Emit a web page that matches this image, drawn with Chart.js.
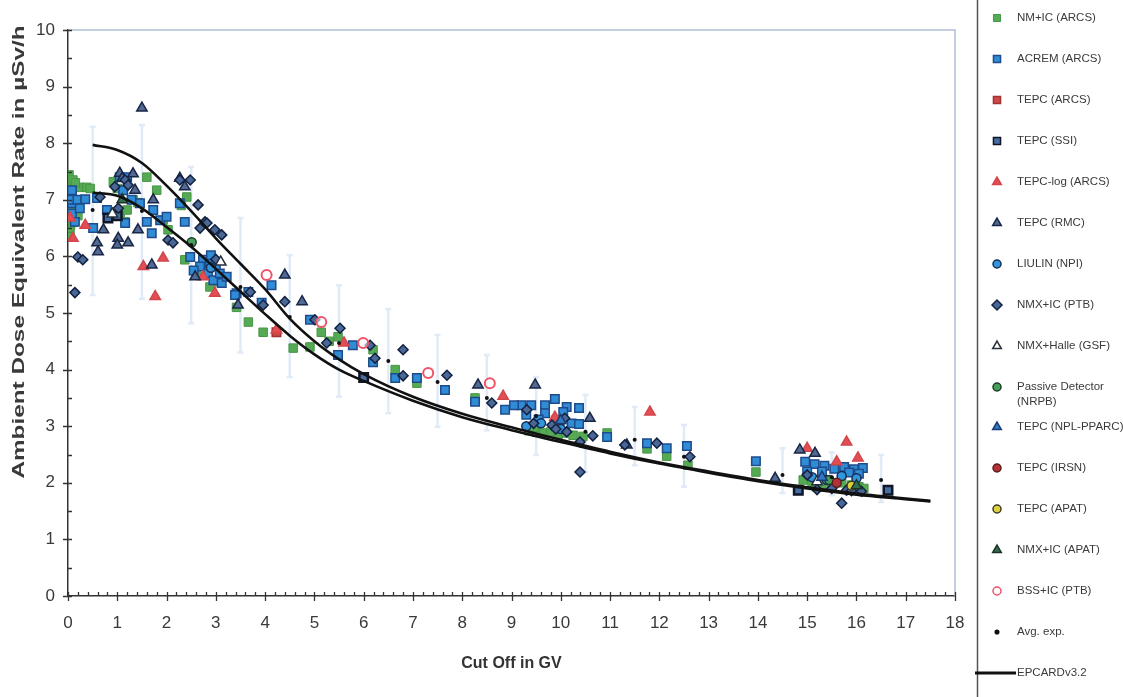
<!DOCTYPE html>
<html>
<head>
<meta charset="utf-8">
<script src="https://cdn.jsdelivr.net/npm/chart.js@4.4.1/dist/chart.umd.min.js"></script>
<style>
  html, body { margin: 0; background: #fff; }
  canvas { display: block; }
</style>
</head>
<body>
<canvas id="doseChart" width="1123" height="697"></canvas>
<script>
// measured dose rates, [cut off GV, µSv/h]
const nmIcArcs = [
  [0.02, 7.44], [0.1, 7.35], [0.0, 7.2], [0.08, 7.05], [0.04, 6.9], [0.0, 6.7], [0.05, 6.55], [0.04, 6.47], [0.0, 6.35],
  [0.24, 7.22], [0.38, 7.22], [0.45, 7.2], [0.15, 7.3], [0.2, 6.72], [0.1, 6.6],
  [0.92, 7.32], [1.06, 6.76], [1.2, 6.82], [1.16, 6.61], [1.32, 7.0], [1.6, 7.4], [1.8, 7.17], [1.93, 6.64], [2.03, 6.47], [1.0, 7.2], [1.42, 6.95],
  [2.37, 5.94], [2.41, 7.05], [2.3, 6.9], [2.88, 5.46], [3.42, 5.1], [3.66, 4.84], [3.96, 4.66], [4.57, 4.38], [2.6, 5.7], [3.05, 5.55],
  [4.91, 4.4], [5.14, 4.66], [5.48, 4.58], [6.19, 4.35], [6.64, 4.0], [7.08, 3.76], [5.3, 4.5],
  [8.26, 3.5], [9.35, 2.92], [9.5, 2.9], [9.65, 2.88], [9.8, 2.9], [9.95, 2.86], [10.1, 2.88], [10.25, 2.84], [10.45, 2.82], [9.45, 2.98],
  [10.94, 2.88], [11.75, 2.6], [12.15, 2.47], [12.58, 2.31], [13.96, 2.19],
  [14.92, 2.05], [15.1, 2.0], [15.3, 1.97], [15.5, 1.95], [15.7, 2.0], [15.9, 1.96], [16.05, 1.93], [16.15, 1.9], [15.2, 1.92]
];
const acremArcs = [
  [0.08, 7.17], [0.08, 6.94], [0.18, 7.0], [0.35, 7.01], [0.08, 6.76], [0.24, 6.85], [0.14, 6.61], [0.51, 6.5], [0.59, 7.03], [0.02, 7.0],
  [0.79, 6.82], [0.95, 6.76], [1.16, 6.59], [1.12, 7.17], [1.29, 7.0], [1.46, 6.94], [1.6, 6.61], [1.73, 6.82], [1.7, 6.41], [1.87, 6.64], [2.0, 6.7], [1.05, 7.4], [1.2, 7.4],
  [2.27, 6.94], [2.37, 6.61], [2.48, 5.99], [2.74, 5.94], [2.88, 5.88], [2.68, 5.82], [2.84, 5.7], [2.95, 5.58], [3.08, 5.7], [3.12, 5.53], [3.22, 5.64],
  [3.42, 5.35], [3.39, 5.32], [3.66, 5.37], [3.93, 5.18], [4.13, 5.49], [2.55, 5.75], [2.9, 6.02], [3.0, 5.85],
  [4.91, 4.88], [5.78, 4.43], [6.19, 4.13], [6.64, 3.85], [5.48, 4.26], [7.08, 3.85], [7.65, 3.64],
  [8.26, 3.43], [8.87, 3.29], [9.2, 3.37], [9.4, 3.37], [9.68, 3.37], [9.88, 3.48], [10.12, 3.34], [10.37, 3.32], [9.68, 3.23], [9.98, 3.11],
  [10.22, 3.05], [10.37, 3.04], [9.3, 3.2], [9.55, 3.12], [9.05, 3.37], [10.05, 3.25],
  [10.94, 2.81], [11.75, 2.7], [12.15, 2.61], [12.56, 2.65], [13.96, 2.38],
  [14.96, 2.37], [15.15, 2.33], [15.35, 2.3], [15.55, 2.25], [15.75, 2.28], [15.95, 2.24], [16.13, 2.26], [15.0, 2.2], [15.3, 2.2], [15.85, 2.18], [16.05, 2.16]
];
const tepcArcs = [[4.23, 4.66], [9.9, 3.1]];
const tepcSsi = [[0.81, 6.68], [1.0, 6.72], [6.0, 3.86], [14.82, 1.87], [16.64, 1.87]];
const tepcLogArcs = [
  [0.04, 6.68], [0.1, 6.32], [0.35, 6.55], [1.53, 5.82], [1.77, 5.29], [1.93, 5.97], [2.74, 5.64], [2.98, 5.35], [4.23, 4.7],
  [5.6, 4.47], [8.83, 3.53], [9.88, 3.16], [11.81, 3.25], [15.0, 2.61], [15.8, 2.72], [15.6, 2.37], [16.03, 2.44]
];
const tepcRmc = [
  [0.59, 6.24], [0.61, 6.08], [0.72, 6.47], [1.02, 6.32], [1.0, 6.2], [1.22, 6.24], [1.42, 6.47], [1.5, 8.62], [1.73, 7.0], [1.32, 7.46],
  [1.05, 7.47], [1.1, 7.38], [1.36, 7.17], [1.7, 5.85], [2.27, 7.38], [2.37, 7.23], [2.58, 5.64], [3.45, 5.14], [4.4, 5.67], [4.75, 5.2],
  [8.32, 3.73], [9.48, 3.73], [10.59, 3.14], [11.34, 2.67], [14.35, 2.08], [14.85, 2.58], [15.16, 2.52]
];
const liulinNpi = [[2.9, 5.8], [9.3, 3.0], [9.6, 3.05], [10.0, 2.95], [15.1, 2.1], [15.4, 2.05], [15.7, 2.12], [16.0, 2.08]];
const nmxIcPtb = [
  [0.2, 5.99], [0.3, 5.94], [0.14, 5.36], [0.95, 7.23], [1.16, 7.35], [1.22, 7.26], [1.02, 6.85], [0.65, 7.05],
  [2.27, 7.35], [2.48, 7.35], [2.64, 6.91], [2.78, 6.61], [2.82, 6.59], [2.98, 6.47], [3.12, 6.38], [2.03, 6.29], [2.13, 6.24], [2.68, 6.5],
  [3.0, 5.95], [3.7, 5.37], [3.96, 5.14], [4.4, 5.2], [5.01, 4.88], [5.52, 4.73], [5.25, 4.47], [6.13, 4.43], [6.23, 4.2],
  [6.8, 4.35], [6.8, 3.89], [7.69, 3.9], [8.6, 3.41], [9.31, 3.29], [9.82, 3.02], [10.08, 3.14], [10.12, 2.9], [10.39, 2.72], [10.65, 2.83],
  [9.45, 3.05], [9.9, 2.95], [11.3, 2.67], [11.95, 2.7], [12.62, 2.46], [10.39, 2.19],
  [15.0, 2.14], [15.2, 1.88], [15.5, 1.9], [15.8, 1.87], [15.9, 1.86], [16.1, 1.85], [15.7, 1.64]
];
const nmxHalleGsf = [[0.9, 6.75], [3.1, 5.9], [15.2, 2.02]];
const passiveNrpb = [[2.51, 6.25], [15.45, 2.05]];
const tepcNplPparc = [[10.0, 3.1], [15.3, 2.1]];
const tepcIrsn = [[15.6, 2.0]];
const tepcApat = [[15.9, 1.95]];
const nmxIcApat = [[1.1, 7.0], [16.0, 1.95]];
const bssIcPtb = [[4.03, 5.67], [5.14, 4.84], [5.99, 4.47], [7.31, 3.94], [8.56, 3.76]];

// averaged experimental values with their spread
const avgX = [0.5, 1.5, 2.5, 3.5, 4.5, 5.5, 6.5, 7.5, 8.5, 9.5, 10.5, 11.5, 12.5, 14.5, 15.5, 16.5];
const avgY = [6.82, 6.8, 6.2, 5.46, 4.93, 4.47, 4.15, 3.78, 3.5, 3.18, 2.9, 2.76, 2.46, 2.14, 2.1, 2.05];
const avgLow = [5.32, 5.25, 4.82, 4.3, 3.87, 3.52, 3.23, 2.99, 2.93, 2.49, 2.19, 2.31, 1.93, 1.82, 1.78, 1.66];
const avgHigh = [8.29, 8.32, 7.58, 6.68, 6.02, 5.49, 5.07, 4.61, 4.26, 3.87, 3.55, 3.34, 3.02, 2.61, 2.54, 2.49];

// EPCARD v3.2 model band
const epcardX = [0.5, 1, 1.5, 2, 2.5, 3, 3.5, 4, 4.5, 5, 5.5, 6, 7, 8, 9, 10, 11, 12, 13, 14, 15, 16, 17, 17.5];
const epcardUpper = [7.97, 7.88, 7.65, 7.25, 6.8, 6.32, 5.87, 5.42, 4.9, 4.5, 4.18, 3.92, 3.52, 3.22, 2.98, 2.76, 2.55, 2.36, 2.2, 2.05, 1.92, 1.81, 1.72, 1.68];
const epcardLower = [7.13, 7.07, 6.85, 6.52, 6.17, 5.78, 5.38, 4.98, 4.6, 4.27, 4.0, 3.8, 3.45, 3.16, 2.93, 2.72, 2.52, 2.34, 2.18, 2.03, 1.9, 1.79, 1.71, 1.67];

const xTicks = [0, 1, 2, 3, 4, 5, 6, 7, 8, 9, 10, 11, 12, 13, 14, 15, 16, 17, 18];
const yTicks = [0, 1, 2, 3, 4, 5, 6, 7, 8, 9, 10];

const FONT = '"Liberation Sans", Arial, sans-serif';
const pts = arr => arr.map(([x, y]) => ({ x, y }));

function series(label, data, style, fill, border, opts = {}) {
  return Object.assign({
    label,
    data: pts(data),
    pointStyle: style,
    pointRadius: 5,
    pointBackgroundColor: fill,
    pointBorderColor: border,
    pointBorderWidth: 1.5,
    showLine: false
  }, opts);
}

const datasets = [
  series('NM+IC (ARCS)', nmIcArcs, 'rect', 'rgb(86,170,84)', 'rgb(70,150,70)', { pointRadius: 6, pointBorderWidth: 1, order: 20 }),
  series('ACREM (ARCS)', acremArcs, 'rect', 'rgb(48,140,212)', 'rgb(30,75,140)', { pointRadius: 6, order: 19 }),
  series('TEPC (ARCS)', tepcArcs, 'rect', 'rgb(205,72,72)', 'rgb(160,50,50)', { pointRadius: 6, order: 18 }),
  series('TEPC (SSI)', tepcSsi, 'rect', 'rgb(70,110,160)', 'rgb(15,22,40)', { pointRadius: 6, pointBorderWidth: 2.5, order: 17 }),
  series('TEPC-log (ARCS)', tepcLogArcs, 'triangle', 'rgb(226,78,84)', 'rgb(210,70,75)', { pointRadius: 6, order: 15 }),
  series('TEPC (RMC)', tepcRmc, 'triangle', 'rgb(82,106,146)', 'rgb(25,38,70)', { pointRadius: 6, order: 14 }),
  series('LIULIN (NPI)', liulinNpi, 'circle', 'rgb(50,150,220)', 'rgb(22,45,85)', { pointRadius: 4.5, order: 13 }),
  series('NMX+IC (PTB)', nmxIcPtb, 'rectRot', 'rgb(74,104,150)', 'rgb(18,32,64)', { pointRadius: 5, order: 12 }),
  series('NMX+Halle (GSF)', nmxHalleGsf, 'triangle', '#fff', 'rgb(40,48,60)', { pointRadius: 6, order: 11 }),
  series('Passive Detector\n(NRPB)', passiveNrpb, 'circle', 'rgb(70,160,90)', 'rgb(30,60,40)', { pointRadius: 4.5, order: 10 }),
  series('TEPC (NPL-PPARC)', tepcNplPparc, 'triangle', 'rgb(50,120,200)', 'rgb(25,60,110)', { pointRadius: 6, order: 9 }),
  series('TEPC (IRSN)', tepcIrsn, 'circle', 'rgb(180,50,55)', 'rgb(90,30,30)', { pointRadius: 4.5, order: 8 }),
  series('TEPC (APAT)', tepcApat, 'circle', 'rgb(222,210,60)', 'rgb(60,60,40)', { pointRadius: 4.5, order: 7 }),
  series('NMX+IC (APAT)', nmxIcApat, 'triangle', 'rgb(50,110,80)', 'rgb(30,50,40)', { pointRadius: 6, order: 6 }),
  series('BSS+IC (PTB)', bssIcPtb, 'circle', 'rgba(255,255,255,0.6)', 'rgb(240,82,104)', { pointRadius: 5, pointBorderWidth: 2, order: 5 }),
  series('Avg. exp.', avgX.map((x, i) => [x, avgY[i]]), 'circle', '#111', '#111', { pointRadius: 2, pointBorderWidth: 0, order: 2 }),
  {
    label: 'EPCARDv3.2',
    data: pts(epcardX.map((x, i) => [x, epcardUpper[i]])),
    showLine: true, borderColor: '#111', borderWidth: 2.6, pointRadius: 0,
    cubicInterpolationMode: 'monotone', order: 3, legendLine: true
  },
  {
    label: 'EPCARDv3.2 lower',
    data: pts(epcardX.map((x, i) => [x, epcardLower[i]])),
    showLine: true, borderColor: '#111', borderWidth: 2.6, pointRadius: 0,
    cubicInterpolationMode: 'monotone', order: 3, hideInLegend: true
  }
];

// faint spread bars of the averaged values + light frame of the plot area
const backdrop = {
  id: 'backdrop',
  beforeDatasetsDraw(chart) {
    const { ctx, chartArea: a, scales: { x, y } } = chart;
    ctx.save();
    ctx.strokeStyle = 'rgba(212,226,244,0.7)';
    ctx.lineWidth = 2.5;
    avgX.forEach((v, i) => {
      const px = x.getPixelForValue(v);
      const top = y.getPixelForValue(avgHigh[i]);
      const bot = y.getPixelForValue(avgLow[i]);
      ctx.beginPath();
      ctx.moveTo(px, top); ctx.lineTo(px, bot);
      ctx.moveTo(px - 3, top); ctx.lineTo(px + 3, top);
      ctx.moveTo(px - 3, bot); ctx.lineTo(px + 3, bot);
      ctx.stroke();
    });
    ctx.strokeStyle = 'rgb(176,190,214)';
    ctx.lineWidth = 1.5;
    ctx.beginPath();
    ctx.moveTo(a.left, a.top); ctx.lineTo(a.right, a.top); ctx.lineTo(a.right, a.bottom);
    ctx.stroke();
    ctx.restore();
  }
};

// tick marks, rotated y title and the legend column
const decor = {
  id: 'decor',
  afterDraw(chart) {
    const { ctx, chartArea: a, scales: { x, y } } = chart;
    ctx.save();
    ctx.strokeStyle = '#333';
    ctx.lineWidth = 1.3;
    ctx.beginPath();
    for (let v = 0; v <= 18.001; v += 0.2) {
      const px = Math.round(x.getPixelForValue(v)) + 0.5;
      const major = Math.abs(v - Math.round(v)) < 0.01;
      ctx.moveTo(px, a.bottom - 4);
      ctx.lineTo(px, a.bottom + (major ? 5 : 0));
    }
    for (let v = 0; v <= 10.001; v += 0.5) {
      const py = Math.round(y.getPixelForValue(v)) + 0.5;
      const major = Math.abs(v - Math.round(v)) < 0.01;
      ctx.moveTo(a.left - (major ? 5 : 0), py);
      ctx.lineTo(a.left + 4, py);
    }
    ctx.stroke();

    // y title, stretched along its length
    ctx.save();
    ctx.translate(20, 252);
    ctx.rotate(-Math.PI / 2);
    ctx.scale(1.52, 1);
    ctx.fillStyle = '#3a3a3a';
    ctx.font = 'bold 16px ' + FONT;
    ctx.textAlign = 'center';
    ctx.textBaseline = 'middle';
    ctx.fillText('Ambient Dose Equivalent Rate in µSv/h', 0, 0);
    ctx.restore();

    // legend column
    ctx.strokeStyle = '#555';
    ctx.lineWidth = 1.5;
    ctx.beginPath();
    ctx.moveTo(977.5, 0); ctx.lineTo(977.5, 697);
    ctx.stroke();

    ctx.font = '11.5px ' + FONT;
    ctx.textBaseline = 'middle';
    ctx.textAlign = 'left';
    const items = chart.data.datasets.filter(d => !d.hideInLegend);
    items.forEach((d, i) => {
      const cy = 18 + i * 41 - (i > 9 ? 1 : 0);
      if (d.legendLine) {
        ctx.strokeStyle = d.borderColor;
        ctx.lineWidth = 3;
        ctx.beginPath();
        ctx.moveTo(975, cy); ctx.lineTo(1016, cy);
        ctx.stroke();
      } else {
        ctx.fillStyle = d.pointBackgroundColor;
        ctx.strokeStyle = d.pointBorderColor;
        ctx.lineWidth = Math.min(d.pointBorderWidth, 1.5);
        let r = 5;
        if (d.pointStyle === 'circle') r = 4;
        if (d.pointRadius < 3) r = 1.8;
        Chart.helpers.drawPoint(ctx, { pointStyle: d.pointStyle, radius: r, rotation: 0, borderWidth: ctx.lineWidth }, 997, cy);
      }
      ctx.fillStyle = '#3a3a3a';
      const lines = d.label.split('\n');
      lines.forEach((t, k) => ctx.fillText(t, 1017, cy + k * 15));
    });
    ctx.restore();
  }
};

new Chart(document.getElementById('doseChart'), {
  type: 'scatter',
  data: { datasets },
  options: {
    responsive: false,
    devicePixelRatio: 1,
    animation: false,
    layout: { padding: { top: 30, right: 168, left: 0, bottom: 0 } },
    plugins: { legend: { display: false }, tooltip: { enabled: false } },
    scales: {
      x: {
        type: 'linear', min: 0, max: 18,
        afterFit: s => { s.height = 101; },
        afterBuildTicks: s => { s.ticks = xTicks.map(v => ({ value: v })); },
        grid: { display: false },
        border: { display: true, color: '#333', width: 1.5 },
        ticks: { color: '#3a3a3a', font: { family: FONT, size: 17 }, padding: 9, maxRotation: 0 },
        title: { display: true, text: 'Cut Off in GV', color: '#333', font: { family: FONT, size: 16, weight: 'bold' }, padding: { top: 0, bottom: 24 } }
      },
      y: {
        type: 'linear', min: 0, max: 10,
        afterFit: s => { s.width = 68; },
        afterBuildTicks: s => { s.ticks = yTicks.map(v => ({ value: v })); },
        grid: { display: false },
        border: { display: true, color: '#333', width: 1.5 },
        ticks: { color: '#3a3a3a', font: { family: FONT, size: 17 }, padding: 5 }
      }
    }
  },
  plugins: [backdrop, decor]
});
</script>
</body>
</html>
